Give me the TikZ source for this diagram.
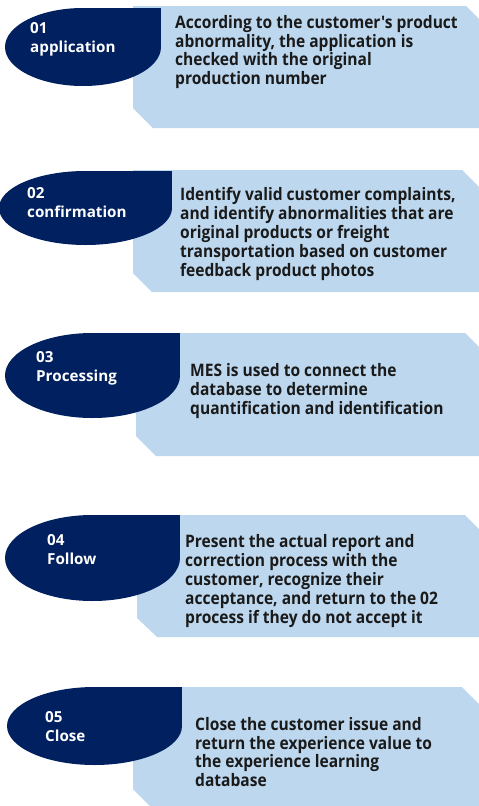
\documentclass[tikz,border=0pt]{standalone}
\usepackage{fontspec}
\setmainfont{Open Sans}[Ligatures=TeXOff]
\newfontfamily\descfont{Open Sans}[Ligatures=TeXOff,FakeStretch=0.905]
\definecolor{navy}{HTML}{002060}
\definecolor{lblue}{HTML}{BDD7EE}
\definecolor{txt}{HTML}{1A1A1A}
\begin{document}
\begin{tikzpicture}[x=1pt,y=-1pt,
  panel/.style={fill=lblue},
  drop/.style={fill=navy},
  desc/.style={anchor=west,align=left,inner sep=0pt,text=txt,font=\descfont\bfseries\fontsize{17.2}{18.9}\selectfont},
  lab/.style={anchor=west,align=left,inner sep=0pt,text=white,font=\bfseries\fontsize{15.2}{19}\selectfont}]
\useasboundingbox (0,0) rectangle (479,806);
\clip (0,0) rectangle (479,806);
% panels
\fill[panel] (133,6) -- (466,6) -- (500,40) -- (500,128) -- (153,128) -- (133,108) -- cycle;
\fill[panel] (133,170) -- (462,170) -- (500,208) -- (500,292) -- (152,292) -- (133,273) -- cycle;
\fill[panel] (136,333) -- (465,333) -- (500,368) -- (500,456) -- (156,456) -- (136,436) -- cycle;
\fill[panel] (137,515) -- (465,515) -- (500,550) -- (500,637) -- (157,637) -- (137,618) -- cycle;
\fill[panel] (133,687) -- (462,687) -- (500,725) -- (500,830) -- (174,830) -- (133,789) -- cycle;
% teardrops
\fill[drop] (83,47) ellipse[x radius=78pt, y radius=39pt];
\fill[drop] (83,8) rectangle (161,47);
\fill[drop] (85.5,208) ellipse[x radius=86.5pt, y radius=37pt];
\fill[drop] (85.5,171) rectangle (172,208);
\fill[drop] (92.5,375.5) ellipse[x radius=87.5pt, y radius=42.5pt];
\fill[drop] (92.5,333) rectangle (180,375.5);
\fill[drop] (92.5,558) ellipse[x radius=87.5pt, y radius=43pt];
\fill[drop] (92.5,515) rectangle (180,558);
\fill[drop] (94.5,726) ellipse[x radius=87.5pt, y radius=39pt];
\fill[drop] (94.5,687) rectangle (182,726);
% labels
\node[lab] (l1) at (30,39.5) {01\\application};
\node[lab] (l2) at (27,202.5) {02\\confirmation};
\node[lab] (l3) at (36,368.5) {03\\Processing};
\node[lab] (l4) at (47,549.5) {04\\Follow};
\node[lab] (l5) at (45,727) {05\\Close};
% descriptions
\node[desc] (d1) at (175,52) {According to the customer's product\\abnormality, the application is\\checked with the original\\production number};
\node[desc] (d2) at (180,234) {Identify valid customer complaints,\\and identify abnormalities that are\\original products or freight\\transportation based on customer\\feedback product photos};
\node[desc] (d3) at (190,391) {MES is used to connect the\\database to determine\\quantification and identification};
\node[desc] (d4) at (185,581) {Present the actual report and\\correction process with the\\customer, recognize their\\acceptance, and return to the 02\\process if they do not accept it};
\node[desc] (d5) at (195,752) {Close the customer issue and\\return the experience value to\\the experience learning\\database};
\end{tikzpicture}
\end{document}
